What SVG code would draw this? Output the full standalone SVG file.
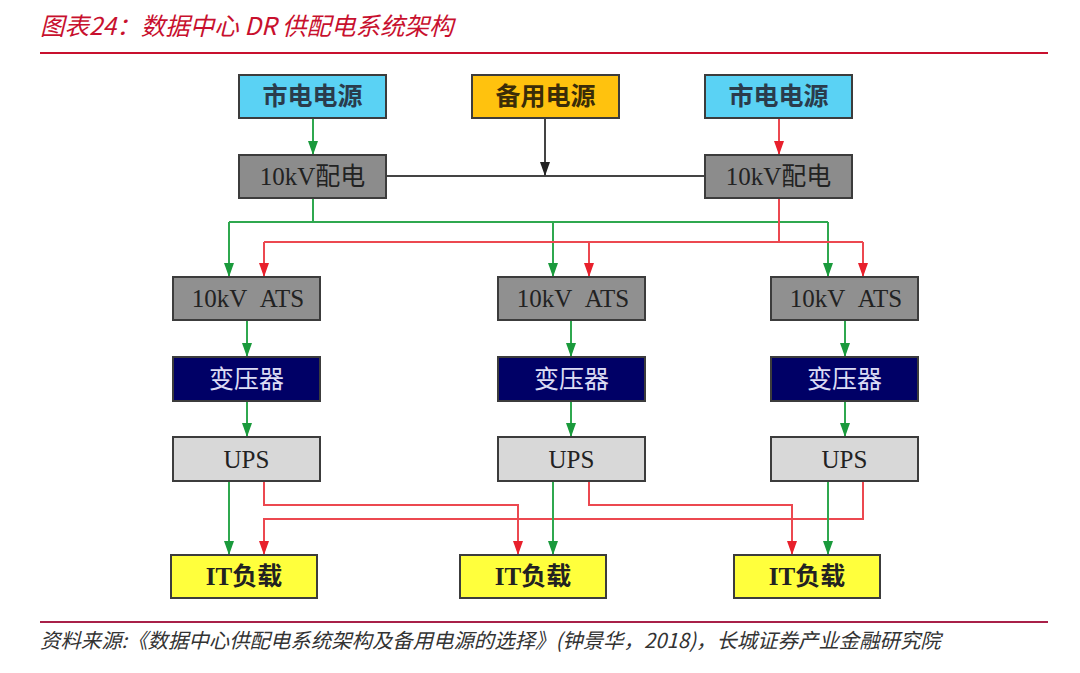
<svg xmlns="http://www.w3.org/2000/svg" width="1080" height="673" viewBox="0 0 1080 673">
<style>
.title{font-family:"Noto Sans CJK SC","Liberation Sans",sans-serif;font-size:24.5px;font-style:italic;fill:#c8102e}
.foot{font-family:"Noto Sans CJK SC","Liberation Sans",sans-serif;font-size:20.4px;font-style:italic;fill:#333}
.box{stroke:#3c3c3c;stroke-width:2}
.cjk{font-family:"Noto Sans CJK SC",sans-serif;font-size:25px;font-weight:bold;text-anchor:middle}
.ser{font-family:"Liberation Serif","Noto Sans CJK SC",serif;font-size:25px;text-anchor:middle;fill:#222}
.g{stroke:#2fa84f;stroke-width:2;fill:none}
.r{stroke:#ec4850;stroke-width:2;fill:none}
.k{stroke:#444;stroke-width:2;fill:none}
</style>
<defs>
<marker id="ag" markerUnits="userSpaceOnUse" markerWidth="10" markerHeight="14" refX="5" refY="14" viewBox="0 0 10 14"><path d="M0,0 L10,0 L5,14 Z" fill="#1a9a3c"/></marker>
<marker id="ar" markerUnits="userSpaceOnUse" markerWidth="10" markerHeight="14" refX="5" refY="14" viewBox="0 0 10 14"><path d="M0,0 L10,0 L5,14 Z" fill="#e8202c"/></marker>
<marker id="ak" markerUnits="userSpaceOnUse" markerWidth="10" markerHeight="14" refX="5" refY="14" viewBox="0 0 10 14"><path d="M0,0 L10,0 L5,14 Z" fill="#222"/></marker>
</defs>
<rect width="1080" height="673" fill="#fff"/>
<text class="title" x="40" y="35">图表24：数据中心 DR 供配电系统架构</text>
<line x1="40" y1="53" x2="1048" y2="53" stroke="#c8102e" stroke-width="2"/>

<g id="connectors">
<path class="g" d="M313,118 V155" marker-end="url(#ag)"/>
<path class="r" d="M779,118 V155" marker-end="url(#ar)"/>
<path class="k" d="M386,176 H705"/>
<path class="k" d="M545,118 V176" marker-end="url(#ak)"/>
<path class="g" d="M313,198 V222 M229,222 H828"/>
<path class="g" d="M229,222 V277" marker-end="url(#ag)"/>
<path class="g" d="M553,222 V277" marker-end="url(#ag)"/>
<path class="g" d="M828,222 V277" marker-end="url(#ag)"/>
<path class="r" d="M779,198 V242 M264,242 H863"/>
<path class="r" d="M264,242 V277" marker-end="url(#ar)"/>
<path class="r" d="M589,242 V277" marker-end="url(#ar)"/>
<path class="r" d="M863,242 V277" marker-end="url(#ar)"/>
<path class="g" d="M247,320 V357" marker-end="url(#ag)"/>
<path class="g" d="M571,320 V357" marker-end="url(#ag)"/>
<path class="g" d="M845,320 V357" marker-end="url(#ag)"/>
<path class="g" d="M247,401 V437" marker-end="url(#ag)"/>
<path class="g" d="M571,401 V437" marker-end="url(#ag)"/>
<path class="g" d="M845,401 V437" marker-end="url(#ag)"/>
<path class="r" d="M863,481 V519 H264 V555" marker-end="url(#ar)"/>
<path class="r" d="M264,481 V505 H518 V555" marker-end="url(#ar)"/>
<path class="r" d="M589,481 V505 H792 V555" marker-end="url(#ar)"/>
<path class="g" d="M229,481 V555" marker-end="url(#ag)"/>
<path class="g" d="M553,481 V555" marker-end="url(#ag)"/>
<path class="g" d="M828,481 V555" marker-end="url(#ag)"/>
</g>

<g id="grid-left">
<rect class="box" x="239" y="75" width="147" height="43" fill="#5ad2f4"/>
<text class="cjk" x="312.5" y="105" fill="#2a3c4c">市电电源</text>
</g>
<g id="backup">
<rect class="box" x="472" y="75" width="147" height="43" fill="#ffc20e"/>
<text class="cjk" x="545.5" y="105" fill="#3a2c08">备用电源</text>
</g>
<g id="grid-right">
<rect class="box" x="705" y="75" width="147" height="43" fill="#5ad2f4"/>
<text class="cjk" x="778.5" y="105" fill="#2a3c4c">市电电源</text>
</g>
<g id="dist-left">
<rect class="box" x="239" y="155" width="147" height="43" fill="#8c8c8c"/>
<text class="ser" x="312.5" y="185">10kV配电</text>
</g>
<g id="dist-right">
<rect class="box" x="705" y="155" width="147" height="43" fill="#8c8c8c"/>
<text class="ser" x="778.5" y="185">10kV配电</text>
</g>

<g id="ats-1">
<rect class="box" x="173" y="277" width="147" height="43" fill="#909090"/>
<text class="ser" x="248" y="307" word-spacing="8">10kV ATS</text>
</g>
<g id="ats-2">
<rect class="box" x="498" y="277" width="147" height="43" fill="#909090"/>
<text class="ser" x="573" y="307" word-spacing="8">10kV ATS</text>
</g>
<g id="ats-3">
<rect class="box" x="771" y="277" width="147" height="43" fill="#909090"/>
<text class="ser" x="846" y="307" word-spacing="8">10kV ATS</text>
</g>

<g id="tx-1">
<rect class="box" x="173" y="357" width="147" height="44" fill="#000066"/>
<text class="ser" x="246.5" y="388" style="fill:#dcdcf4">变压器</text>
</g>
<g id="tx-2">
<rect class="box" x="498" y="357" width="147" height="44" fill="#000066"/>
<text class="ser" x="571.5" y="388" style="fill:#dcdcf4">变压器</text>
</g>
<g id="tx-3">
<rect class="box" x="771" y="357" width="147" height="44" fill="#000066"/>
<text class="ser" x="844.5" y="388" style="fill:#dcdcf4">变压器</text>
</g>

<g id="ups-1">
<rect class="box" x="173" y="437" width="147" height="44" fill="#d8d8d8"/>
<text class="ser" x="246.5" y="468" font-size="26">UPS</text>
</g>
<g id="ups-2">
<rect class="box" x="498" y="437" width="147" height="44" fill="#d8d8d8"/>
<text class="ser" x="571.5" y="468" font-size="26">UPS</text>
</g>
<g id="ups-3">
<rect class="box" x="771" y="437" width="147" height="44" fill="#d8d8d8"/>
<text class="ser" x="844.5" y="468" font-size="26">UPS</text>
</g>

<g id="it-1">
<rect class="box" x="171" y="555" width="146" height="43" fill="#ffff3c"/>
<text class="ser" x="244" y="585" font-weight="bold">IT负载</text>
</g>
<g id="it-2">
<rect class="box" x="460" y="555" width="146" height="43" fill="#ffff3c"/>
<text class="ser" x="533" y="585" font-weight="bold">IT负载</text>
</g>
<g id="it-3">
<rect class="box" x="734" y="555" width="146" height="43" fill="#ffff3c"/>
<text class="ser" x="807" y="585" font-weight="bold">IT负载</text>
</g>

<line x1="40" y1="622" x2="1048" y2="622" stroke="#a82048" stroke-width="2"/>
<text class="foot" x="40" y="648">资料来源:《数据中心供配电系统架构及备用电源的选择》(钟景华，2018)，长城证券产业金融研究院</text>
</svg>
